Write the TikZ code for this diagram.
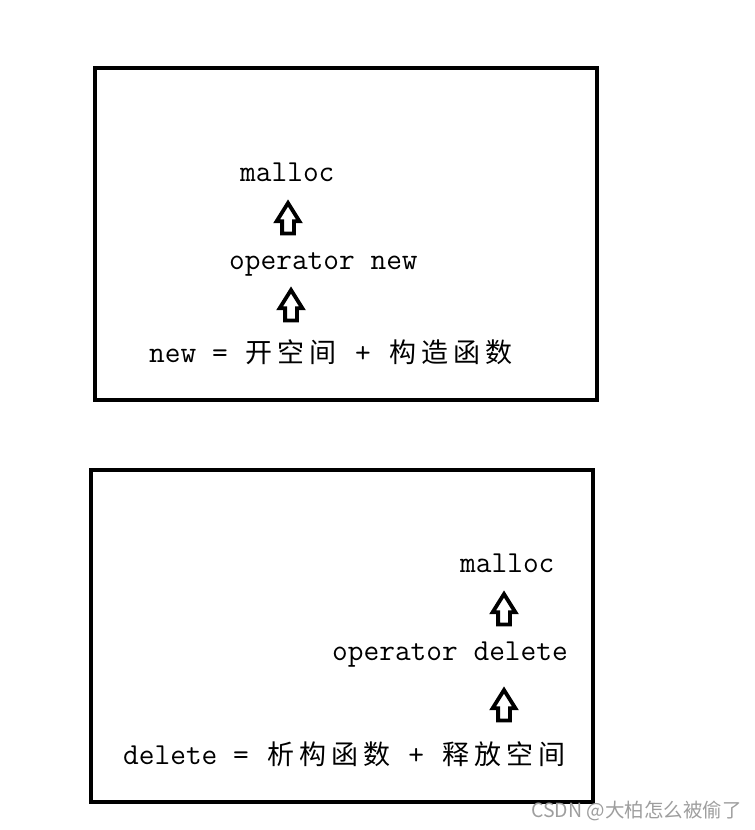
\documentclass[tikz,border=0pt]{standalone}
\usepackage{fontspec}
\newfontfamily\cjk{Noto Sans CJK SC}
\usetikzlibrary{shapes.arrows}
\newcommand\zi[1]{\makebox[32pt]{\cjk\fontsize{27}{30}\selectfont #1}}
\tikzset{
  frame/.style={draw=black, line width=4pt},
  lbl/.style={anchor=base west, inner sep=0pt, font=\ttfamily\fontsize{30.5}{34}\selectfont},
  uparrow/.style={single arrow, draw=black, fill=white, line width=3.8pt,
     shape border rotate=90, inner sep=4pt, single arrow head extend=5.5pt,
     single arrow tip angle=64, minimum height=30.5pt},
  wm/.style={anchor=base west, inner sep=0pt, text=black!38, font=\cjk\fontsize{19.5}{22}\selectfont}
}
\begin{document}
\begin{tikzpicture}[x=1pt,y=-1pt]
\useasboundingbox (0,0) rectangle (755,830);
% box 1
\draw[frame] (95,68) rectangle (597,400);
\node[lbl] (m1) at (240,181) {malloc};
\node[lbl] (o1) at (229,269) {operator new};
\node[lbl] (n1) at (149,362) {new = \zi{开}\zi{空}\zi{间} + \zi{构}\zi{造}\zi{函}\zi{数}};
\node[uparrow] (a1) at (288,223) {};
\node[uparrow] (a2) at (291,310) {};
% box 2
\draw[frame] (91,470) rectangle (593,802);
\node[lbl] (m2) at (460,572) {malloc};
\node[lbl] (o2) at (332,660) {operator delete};
\node[lbl] (d2) at (123,764) {delete = \zi{析}\zi{构}\zi{函}\zi{数} + \zi{释}\zi{放}\zi{空}\zi{间}};
\node[uparrow] (a3) at (504,614) {};
\node[uparrow] (a4) at (504,710) {};
% watermark
\node[wm] (w) at (531,817) {CSDN @大柏怎么被偷了};
\end{tikzpicture}
\end{document}
